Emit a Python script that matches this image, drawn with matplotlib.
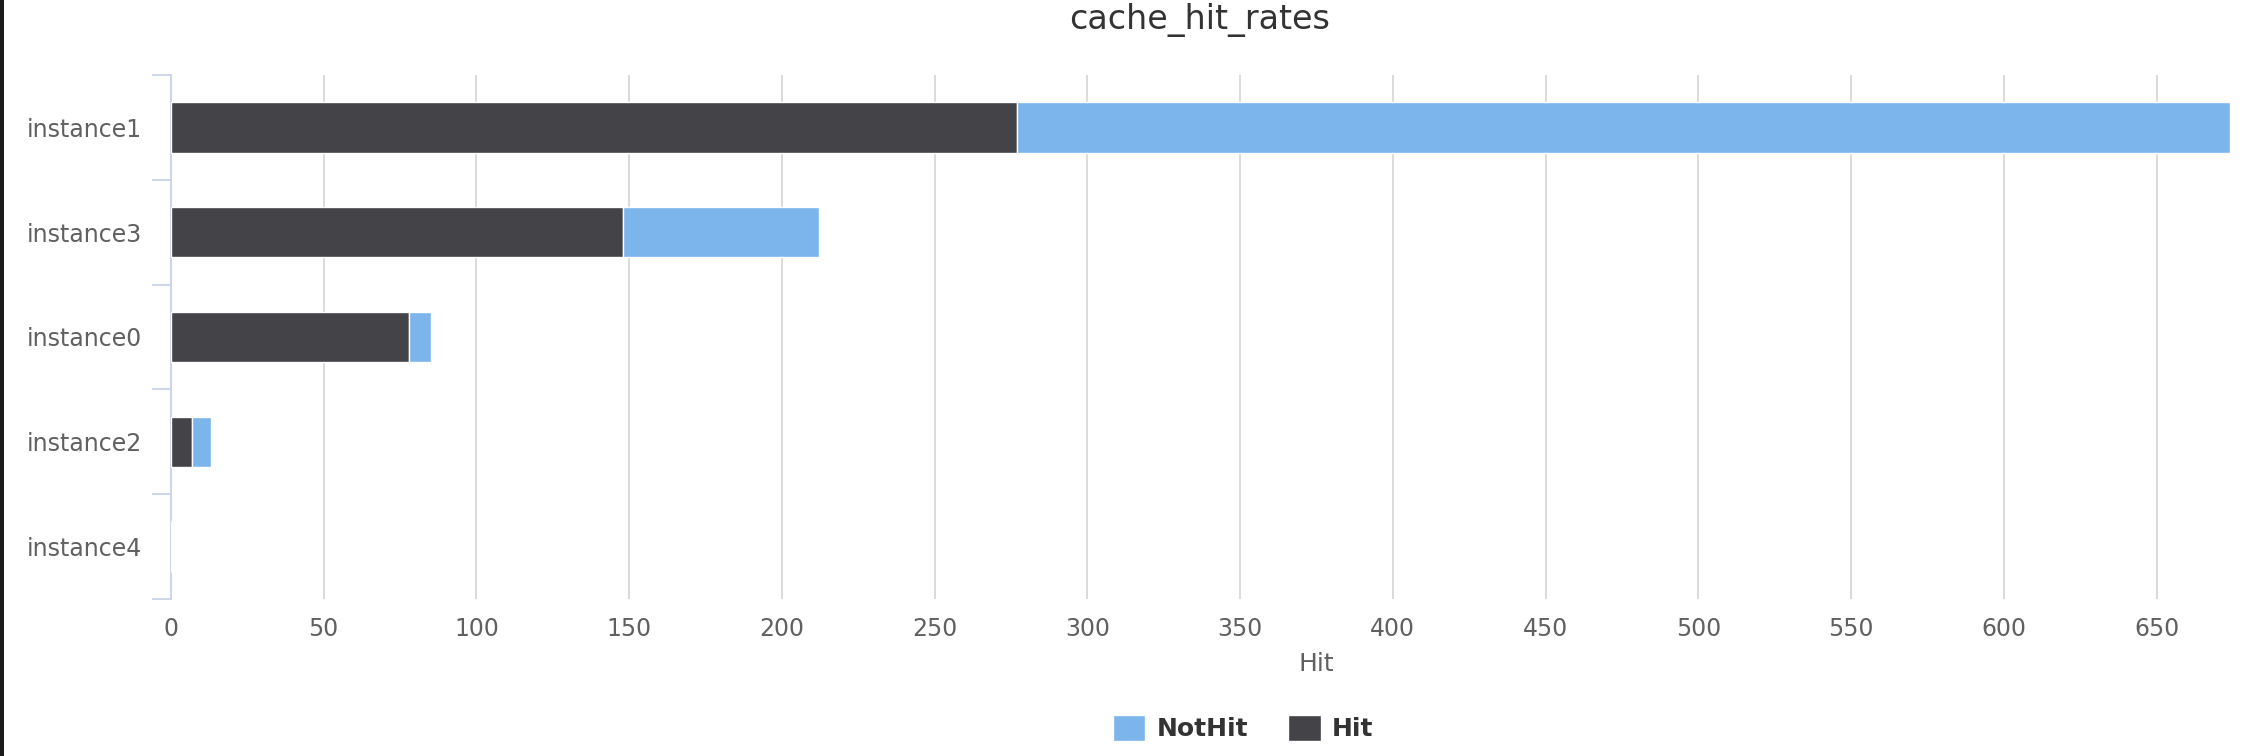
import matplotlib
matplotlib.use("Agg")
import matplotlib.pyplot as plt
from matplotlib.patches import Rectangle
from matplotlib.ticker import FixedLocator

# chart data (top to bottom)
instances = ["instance1", "instance3", "instance0", "instance2", "instance4"]
hit = [277, 148, 78, 7, 0]
not_hit = [397, 64, 7, 6, 0]
x_ticks = list(range(0, 651, 50))

HIT_COLOR = "#434348"
NOTHIT_COLOR = "#7cb5ec"
AXIS_COLOR = "#ccd6eb"
GRID_COLOR = "#dadada"
LABEL_COLOR = "#606060"

W, H = 2246, 756


def create_chart():
    fig = plt.figure(figsize=(W / 100, H / 100), dpi=100)
    fig.patch.set_facecolor("white")

    # plot area runs past the right edge, like the cropped screenshot
    left, right, top, bottom = 171, 2462, 75, 599
    ax = fig.add_axes([left / W, 1 - bottom / H, (right - left) / W, (bottom - top) / H])

    ypos = list(range(len(instances)))
    ax.barh(ypos, hit, height=0.48, color=HIT_COLOR, edgecolor="white",
            linewidth=1.0, zorder=3, label="Hit")
    ax.barh(ypos, not_hit, left=hit, height=0.48, color=NOTHIT_COLOR,
            edgecolor="white", linewidth=1.0, zorder=3, label="NotHit")

    ax.set_xlim(0, 750)
    ax.set_ylim(len(instances) - 0.5, -0.5)

    ax.set_xticks(x_ticks)
    ax.tick_params(axis="x", length=0, pad=13, labelsize=17, labelcolor=LABEL_COLOR)
    ax.xaxis.grid(True, color=GRID_COLOR, linewidth=1.4, zorder=0)
    ax.set_axisbelow(True)

    ax.set_yticks(ypos)
    ax.set_yticklabels(instances)
    ax.tick_params(axis="y", which="major", length=0, pad=21, labelsize=17,
                   labelcolor=LABEL_COLOR)
    ax.yaxis.set_minor_locator(FixedLocator([i - 0.5 for i in range(len(instances) + 1)]))
    ax.tick_params(axis="y", which="minor", length=13.5, width=1.4, color=AXIS_COLOR)

    for side in ["top", "right", "bottom"]:
        ax.spines[side].set_visible(False)
    ax.spines["left"].set_color(AXIS_COLOR)
    ax.spines["left"].set_linewidth(1.4)

    ax.set_xlabel("Hit", fontsize=18, color=LABEL_COLOR, va="center")
    ax.xaxis.set_label_coords(0.5, -(664 - bottom) / (bottom - top))

    fig.text(1200 / W, 1 - 20 / H, "cache_hit_rates", ha="center", va="center",
             fontsize=24, color="#333333")

    handles, labels = ax.get_legend_handles_labels()
    fig.legend(handles[::-1], labels[::-1], loc="center", ncol=2,
               bbox_to_anchor=(1243 / W, 1 - 728 / H), frameon=False,
               prop={"size": 18, "weight": "bold"}, labelcolor="#333333",
               handlelength=1.3, handleheight=1.2, handletextpad=0.45,
               columnspacing=1.6)

    # dark strip on the left edge of the screenshot
    fig.patches.append(Rectangle((0, 0), 4 / W, 1, transform=fig.transFigure,
                                 facecolor="#1c1c1c", edgecolor="none", zorder=10))

    fig.savefig("out.png", dpi=100)
    plt.close(fig)


def main():
    create_chart()


if __name__ == "__main__":
    main()
